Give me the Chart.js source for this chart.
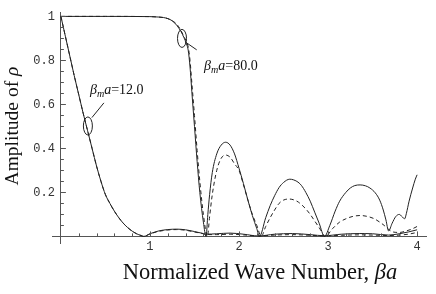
<!DOCTYPE html>
<html>
<head>
<meta charset="utf-8">
<script src="https://cdn.jsdelivr.net/npm/chart.js@4.4.1/dist/chart.umd.min.js"></script>
<style>
  html, body { margin: 0; padding: 0; background: #fff; }
  #wrap { position: relative; width: 436px; height: 294px; }
</style>
</head>
<body>
<div id="wrap"><canvas id="c" width="436" height="294"></canvas></div>
<script>
'use strict';
// beta_m a = 12.0 pair (solid / dashed almost coincide)
const m12X = [0, 0.05, 0.1, 0.15, 0.2, 0.25, 0.3, 0.35, 0.4, 0.45, 0.5, 0.55, 0.6, 0.65, 0.7, 0.75, 0.8, 0.85, 0.9, 0.93,
  1.0, 1.1, 1.2, 1.3, 1.4, 1.5, 1.6, 1.63, 1.75, 1.9, 2.05, 2.22, 2.4, 2.6, 2.8, 2.96, 3.15, 3.35, 3.5, 3.68, 3.8, 3.9, 4.0];
const m12Solid = [1, 0.91, 0.82, 0.73, 0.645, 0.56, 0.48, 0.40, 0.32, 0.25, 0.19, 0.15, 0.115, 0.085, 0.06, 0.04, 0.024, 0.012, 0.004, 0,
  0.012, 0.025, 0.031, 0.033, 0.03, 0.022, 0.013, 0.01, 0.012, 0.015, 0.01, 0.002, 0.01, 0.013, 0.008, 0.003, 0.01, 0.013, 0.012, 0.006, 0.012, 0.02, 0.03];
const m12Dash = [1, 0.91, 0.82, 0.73, 0.645, 0.56, 0.48, 0.40, 0.32, 0.25, 0.19, 0.15, 0.115, 0.085, 0.06, 0.04, 0.024, 0.012, 0.004, 0,
  0.011, 0.023, 0.029, 0.031, 0.028, 0.02, 0.012, 0.009, 0.008, 0.01, 0.007, 0.002, 0.006, 0.008, 0.005, 0.002, 0.005, 0.007, 0.006, 0.004, 0.006, 0.01, 0.018];

// beta_m a = 80.0, solid
const m80X = [0, 0.5, 1.0, 1.1, 1.15, 1.2, 1.25, 1.3, 1.35, 1.38, 1.41, 1.43, 1.45, 1.47, 1.5, 1.53, 1.56, 1.6, 1.63,
  1.65, 1.67, 1.7, 1.75, 1.8, 1.85, 1.9, 1.95, 2.0, 2.05, 2.1, 2.15, 2.2, 2.23,
  2.3, 2.35, 2.4, 2.45, 2.5, 2.57, 2.65, 2.7, 2.75, 2.8, 2.85, 2.9, 2.96,
  3.02, 3.08, 3.13, 3.2, 3.25, 3.3, 3.36, 3.42, 3.47, 3.53, 3.58, 3.62, 3.65, 3.68,
  3.72, 3.76, 3.8, 3.83, 3.86, 3.88, 3.91, 3.95, 3.98, 4.0];
const m80Solid = [1, 1, 0.999, 0.997, 0.995, 0.99, 0.98, 0.96, 0.93, 0.905, 0.875, 0.845, 0.77, 0.66, 0.5, 0.34, 0.2, 0.065, 0,
  0.1, 0.19, 0.29, 0.375, 0.415, 0.428, 0.415, 0.375, 0.31, 0.24, 0.165, 0.095, 0.035, 0,
  0.085, 0.14, 0.185, 0.222, 0.245, 0.26, 0.25, 0.232, 0.2, 0.16, 0.11, 0.06, 0,
  0.05, 0.115, 0.16, 0.2, 0.22, 0.231, 0.234, 0.23, 0.22, 0.198, 0.165, 0.12, 0.075, 0.025,
  0.06, 0.09, 0.1, 0.09, 0.08, 0.105, 0.16, 0.22, 0.26, 0.28];

// beta_m a = 80.0, dashed
const d80X = [0, 0.5, 1.0, 1.1, 1.15, 1.2, 1.25, 1.3, 1.35, 1.38, 1.41, 1.43, 1.45, 1.47, 1.5, 1.53, 1.56, 1.6, 1.645,
  1.67, 1.7, 1.75, 1.8, 1.85, 1.9, 1.95, 2.0, 2.05, 2.1, 2.15, 2.2, 2.25,
  2.3, 2.35, 2.4, 2.45, 2.5, 2.56, 2.65, 2.7, 2.75, 2.8, 2.85, 2.9, 2.97,
  3.05, 3.13, 3.2, 3.27, 3.36, 3.45, 3.52, 3.58, 3.63, 3.67, 3.73, 3.8, 3.88, 3.95, 4.0];
const d80Dash = [1, 1, 0.999, 0.997, 0.995, 0.99, 0.98, 0.965, 0.935, 0.91, 0.885, 0.86, 0.8, 0.7, 0.55, 0.39, 0.25, 0.1, 0,
  0.09, 0.19, 0.30, 0.355, 0.37, 0.36, 0.33, 0.30, 0.235, 0.165, 0.1, 0.05, 0,
  0.045, 0.085, 0.12, 0.15, 0.165, 0.17, 0.16, 0.145, 0.125, 0.1, 0.07, 0.04, 0,
  0.035, 0.065, 0.08, 0.09, 0.095, 0.09, 0.08, 0.065, 0.05, 0.035, 0.02, 0.018, 0.025, 0.035, 0.045];

const xTicks = [1, 2, 3, 4];
const xTickLabels = ['1', '2', '3', '4'];
const yTicks = [0.2, 0.4, 0.6, 0.8, 1];
const yTickLabels = ['0.2', '0.4', '0.6', '0.8', '1'];

const labels = [
  { value: '12.0', ellipse: [0.303, 0.502], lead: [[0.348, 0.54], [0.483, 0.607]], text: [0.326, 0.648] },
  { value: '80.0', ellipse: [1.36, 0.9], lead: [[1.393, 0.885], [1.525, 0.848]], text: [1.607, 0.757] },
];

const pts = (xs, ys) => xs.map((x, i) => ({ x, y: ys[i] }));
const INK = '#222';
const MONO = '"Liberation Mono", "DejaVu Sans Mono", monospace';
const SERIF = '"Liberation Serif", "DejaVu Serif", serif';

const line = (data, dash) => ({
  data, borderColor: INK, borderWidth: 1, borderDash: dash, pointRadius: 0,
  cubicInterpolationMode: 'monotone', fill: false,
});

// mixed roman/italic runs drawn one after another
function runs(ctx, parts, x, y, size) {
  let cx = x;
  for (const p of parts) {
    const sz = p.sub ? size * 0.72 : size;
    ctx.font = (p.it ? 'italic ' : '') + sz + 'px ' + SERIF;
    ctx.fillText(p.t, cx, y + (p.sub ? size * 0.22 : 0));
    cx += ctx.measureText(p.t).width;
  }
  return cx - x;
}
function runsWidth(ctx, parts, size) {
  let w = 0;
  for (const p of parts) {
    ctx.font = (p.it ? 'italic ' : '') + (p.sub ? size * 0.72 : size) + 'px ' + SERIF;
    w += ctx.measureText(p.t).width;
  }
  return w;
}

const decor = {
  id: 'decor',
  afterDraw(chart) {
    const { ctx, scales: { x, y } } = chart;
    const x0 = x.getPixelForValue(0), y0 = y.getPixelForValue(0);
    ctx.save();
    ctx.strokeStyle = '#555';
    ctx.lineWidth = 1;
    // inside ticks, Mathematica style
    for (let i = 1; i <= 20; i++) {
      const v = i * 0.05, py = Math.round(y.getPixelForValue(v)) + 0.5;
      const len = i % 4 === 0 ? 5 : 3;
      ctx.beginPath(); ctx.moveTo(x0, py); ctx.lineTo(x0 + len, py); ctx.stroke();
    }
    for (let i = 1; i <= 20; i++) {
      const v = i * 0.2, px = Math.round(x.getPixelForValue(v)) + 0.5;
      const len = i % 5 === 0 ? 5 : 3;
      ctx.beginPath(); ctx.moveTo(px, y0); ctx.lineTo(px, y0 - len); ctx.stroke();
    }
    // y tick labels, right-aligned left of the axis
    ctx.fillStyle = '#333';
    ctx.font = '12px ' + MONO;
    ctx.textAlign = 'right';
    ctx.textBaseline = 'middle';
    yTicks.forEach((v, i) => ctx.fillText(yTickLabels[i], x0 - 6, y.getPixelForValue(v)));
    // curve labels
    ctx.strokeStyle = INK;
    ctx.fillStyle = '#111';
    ctx.textBaseline = 'alphabetic';
    ctx.textAlign = 'left';
    for (const l of labels) {
      ctx.beginPath();
      ctx.ellipse(x.getPixelForValue(l.ellipse[0]), y.getPixelForValue(l.ellipse[1]), 4.5, 9, 0, 0, Math.PI * 2);
      ctx.stroke();
      ctx.beginPath();
      ctx.moveTo(x.getPixelForValue(l.lead[0][0]), y.getPixelForValue(l.lead[0][1]));
      ctx.lineTo(x.getPixelForValue(l.lead[1][0]), y.getPixelForValue(l.lead[1][1]));
      ctx.stroke();
      runs(ctx, [{ t: 'β', it: true }, { t: 'm', it: true, sub: true }, { t: 'a', it: true }, { t: '=' + l.value }],
        x.getPixelForValue(l.text[0]), y.getPixelForValue(l.text[1]), 14);
    }
    // axis titles
    const xt = [{ t: 'Normalized Wave Number, ' }, { t: 'βa', it: true }];
    const xw = runsWidth(ctx, xt, 22.5);
    runs(ctx, xt, 260 - xw / 2, 279, 22.5);
    const yt = [{ t: 'Amplitude of ' }, { t: 'ρ', it: true }];
    const yw = runsWidth(ctx, yt, 19.5);
    ctx.translate(18, 126);
    ctx.rotate(-Math.PI / 2);
    runs(ctx, yt, -yw / 2, 0, 19.5);
    ctx.restore();
  },
};

const axisCommon = {
  type: 'linear',
  grid: { display: false, drawTicks: false },
  border: { display: true, color: '#555', width: 1 },
};

new Chart(document.getElementById('c'), {
  type: 'line',
  data: {
    datasets: [
      line(pts(m12X, m12Solid), []),
      line(pts(m12X, m12Dash), [4, 3]),
      line(pts(m80X, m80Solid), []),
      line(pts(d80X, d80Dash), [4, 3]),
    ],
  },
  options: {
    responsive: false, animation: false,
    layout: { padding: { left: 52, right: 10, top: 12, bottom: 51 } },
    plugins: { legend: { display: false }, tooltip: { enabled: false } },
    scales: {
      x: {
        ...axisCommon, min: -0.1, max: 4.1, position: { y: 0 },
        afterBuildTicks: (s) => { s.ticks = xTicks.map((v) => ({ value: v })); },
        ticks: {
          color: '#333', font: { family: MONO, size: 12 }, padding: 3,
          callback: (v) => xTickLabels[xTicks.indexOf(v)],
        },
      },
      y: {
        ...axisCommon, min: -0.03, max: 1.02, position: { x: 0 },
        afterBuildTicks: (s) => { s.ticks = yTicks.map((v) => ({ value: v })); },
        ticks: { display: false },
      },
    },
  },
  plugins: [decor],
});
</script>
</body>
</html>
